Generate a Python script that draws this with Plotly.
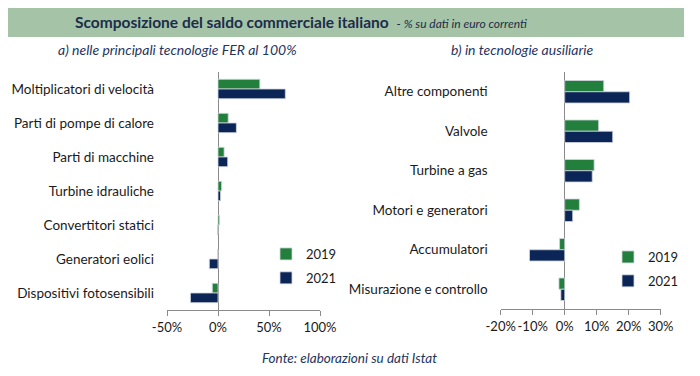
import plotly.graph_objects as go

# The page body has an 8px margin; the figure fills the rest of the window.
OX, OY = 8, 8
W, H = 684, 360

# Data
cat_a = ["Moltiplicatori di velocità", "Parti di pompe di calore", "Parti di macchine",
         "Turbine idrauliche", "Convertitori statici", "Generatori eolici",
         "Dispositivi fotosensibili"]
a_2019 = [41, 10, 6, 3.5, 1.5, -0.3, -5.6]
a_2021 = [66, 18, 9.5, 2.5, -0.5, -8.5, -27]

cat_b = ["Altre componenti", "Valvole", "Turbine a gas", "Motori e generatori",
         "Accumulatori", "Misurazione e controllo"]
b_2019 = [12.2, 10.6, 9.2, 4.6, -1.6, -1.8]
b_2021 = [20.3, 15.0, 8.6, 2.5, -11.0, -1.2]

ticks_a = [-50, 0, 50, 100]
ticks_a_text = ["-50%", "0%", "50%", "100%"]
ticks_b = [-20, -10, 0, 10, 20, 30]
ticks_b_text = ["-20%", "-10%", "0%", "10%", "20%", "30%"]

GREEN = "#22803c"
NAVY = "#0c2557"
GREY = "#8a8a8a"
TXT = "#1a1a1a"
FONT = "Lato"


def px(x):
    return (x - OX) / W


def py(y):
    return 1 - (y - OY) / H


fig = go.Figure()

for name, vals, col, lg, xa, ya, cats, leg in [
    ("2019", a_2019, GREEN, "g1", "x", "y", cat_a, "legend"),
    ("2021", a_2021, NAVY, "g2", "x", "y", cat_a, "legend"),
    ("2019", b_2019, GREEN, "g3", "x2", "y2", cat_b, "legend2"),
    ("2021", b_2021, NAVY, "g4", "x2", "y2", cat_b, "legend2"),
]:
    fig.add_trace(go.Bar(
        x=vals, y=cats, orientation="h", name=name,
        marker=dict(color=col, line=dict(color="#d0d6de", width=0.8)),
        xaxis=xa, yaxis=ya, legendgroup=lg, legend=leg,
        hoverinfo="skip",
    ))

axis_common = dict(
    showgrid=False, zeroline=True, zerolinecolor=GREY, zerolinewidth=1,
    showline=True, linecolor=GREY, linewidth=1,
    ticks="outside", ticklen=5, tickcolor=GREY, tickwidth=1,
    tickmode="array", tickangle=0,
    tickfont=dict(size=13, color=TXT, family=FONT),
    fixedrange=True, automargin=False,
)
yaxis_common = dict(
    showgrid=False, zeroline=False, showline=False, ticks="",
    autorange="reversed", tickfont=dict(size=13.5, color=TXT, family=FONT),
    ticklabelstandoff=12, fixedrange=True, automargin=False,
)

fig.update_layout(
    width=W, height=H,
    margin=dict(l=0, r=0, t=0, b=0, autoexpand=False),
    paper_bgcolor="white", plot_bgcolor="white",
    barmode="group", bargap=0.43, bargroupgap=0,
    font=dict(family=FONT, color=TXT),
    xaxis=dict(axis_common, domain=[px(167), px(320)], range=[-50, 100],
               tickvals=ticks_a, ticktext=ticks_a_text, anchor="y"),
    yaxis=dict(yaxis_common, domain=[py(310), py(72)], anchor="x"),
    xaxis2=dict(axis_common, domain=[px(500.7), px(660.7)], range=[-20, 30],
                tickvals=ticks_b, ticktext=ticks_b_text, anchor="y2"),
    yaxis2=dict(yaxis_common, domain=[py(309), py(72)], anchor="x2"),
    legend=dict(x=px(266), y=py(239), xanchor="left", yanchor="top",
                font=dict(size=13, color=TXT, family=FONT),
                tracegroupgap=4, itemwidth=30, bgcolor="rgba(0,0,0,0)"),
    legend2=dict(x=px(608), y=py(242), xanchor="left", yanchor="top",
                 font=dict(size=13, color=TXT, family=FONT),
                 tracegroupgap=4, itemwidth=30, bgcolor="rgba(0,0,0,0)"),
    showlegend=True,
)

# Title band
fig.add_shape(type="rect", xref="paper", yref="paper",
              x0=px(8), x1=px(684), y0=py(37), y1=py(7),
              fillcolor="#a5c3a6", line=dict(width=0), layer="below")

fig.add_annotation(
    xref="paper", yref="paper", x=px(73), y=py(22), xanchor="left", yanchor="middle",
    showarrow=False,
    text="<b>Scomposizione del saldo commerciale italiano</b>  "
         "<i><span style='font-size:12px'>- % su dati in euro correnti</span></i>",
    font=dict(size=15.5, color="#1b2d4b", family=FONT),
)
fig.add_annotation(
    xref="paper", yref="paper", x=px(177), y=py(49), xanchor="center", yanchor="middle",
    showarrow=False, text="<i>a) nelle principali tecnologie FER al 100%</i>",
    font=dict(size=14, color="#1f3560", family=FONT),
)
fig.add_annotation(
    xref="paper", yref="paper", x=px(522), y=py(49), xanchor="center", yanchor="middle",
    showarrow=False, text="<i>b) in tecnologie ausiliarie</i>",
    font=dict(size=14, color="#1f3560", family=FONT),
)
fig.add_annotation(
    xref="paper", yref="paper", x=px(349), y=py(358), xanchor="center", yanchor="middle",
    showarrow=False, text="<i>Fonte: elaborazioni su dati Istat</i>",
    font=dict(size=13.5, color="#1f3560", family=FONT),
)

fig.write_html("out.html")
